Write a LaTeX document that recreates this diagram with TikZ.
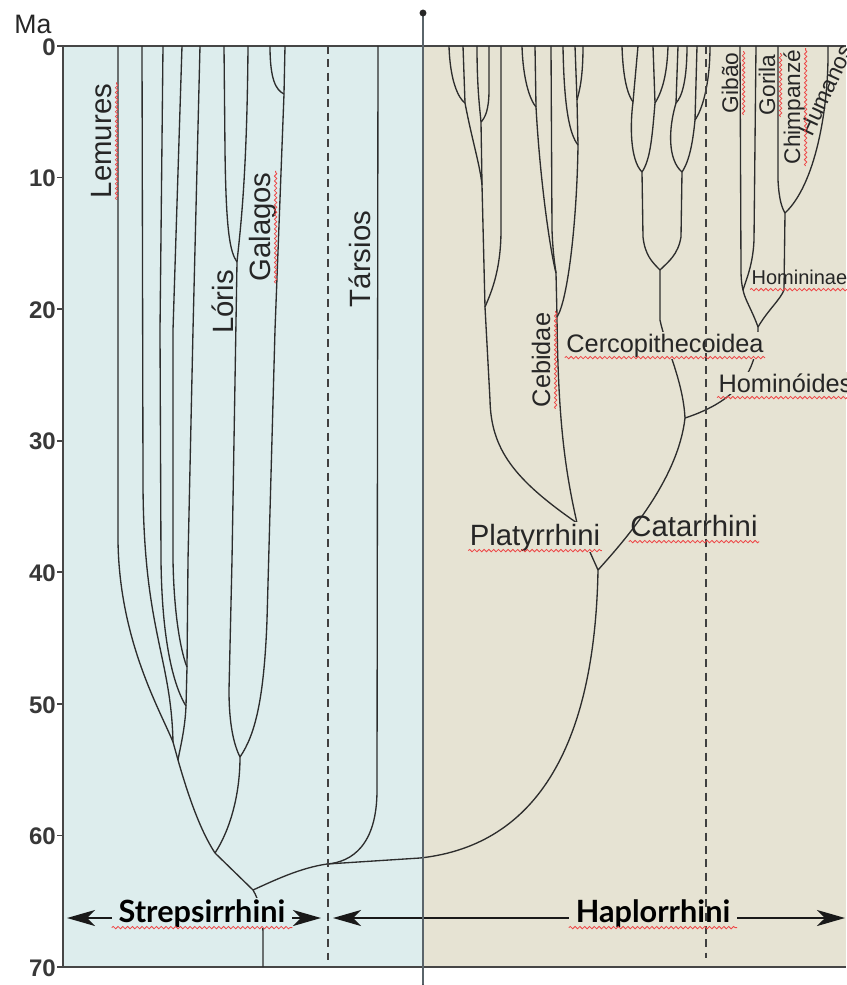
\documentclass[tikz,border=0pt]{standalone}
\usepackage{fontspec}
\setmainfont{Liberation Sans}
\newfontfamily\groupfont{Lato}
\usepackage{xcolor}
\usepackage{tikz}
\usetikzlibrary{arrows.meta}
\usetikzlibrary{calc}
\usetikzlibrary{decorations.pathmorphing}
\definecolor{strepbg}{RGB}{221,237,237}
\definecolor{haplobg}{RGB}{230,227,211}
\definecolor{branchcol}{RGB}{45,45,45}
\definecolor{framecol}{RGB}{70,70,70}
\definecolor{axiscol}{RGB}{90,100,106}
\definecolor{spellred}{RGB}{238,70,70}
\newcommand{\squig}[1]{\draw[squiggle] ($(#1.base west)!4.2pt!-90:(#1.base east)$) -- ($(#1.base east)!4.2pt!90:(#1.base west)$);}

\begin{document}
\begin{tikzpicture}[x=0.75pt, y=-0.75pt,
  branch/.style={draw=branchcol, line width=1pt, line join=round},
  clade/.style={inner sep=1pt, anchor=base, font=\fontsize{22}{26}\selectfont, text=black!85},
  cladesmall/.style={clade, font=\fontsize{19}{23}\selectfont},
  apes/.style={clade, font=\fontsize{17}{20}\selectfont},
  group/.style={inner xsep=5pt, inner ysep=1pt, anchor=base, font=\groupfont\bfseries\fontsize{23}{27}\selectfont},
  grouparrow/.style={draw=black!90, line width=1.5pt, -{Stealth[length=21pt, width=12pt, inset=6pt]}},
  sepline/.style={draw=black!75, line width=1pt, dash pattern=on 6pt off 4pt},
  frameline/.style={draw=framecol, line width=1.2pt},
  ticklab/.style={anchor=east, inner sep=0pt, font=\bfseries\fontsize{18}{20}\selectfont, text=black!78},
  squiggle/.style={draw=spellred, line width=0.6pt, decorate, decoration={snake, amplitude=0.9pt, segment length=3.6pt}}
]
\useasboundingbox (0,0) rectangle (846,985);

\fill[strepbg] (63,46) rectangle (423,967);
\fill[haplobg] (423,46) rectangle (846,967);
\draw[frameline] (57,46) -- (846,46);
\draw[frameline] (57,967) -- (846,967);
\draw[frameline] (63,46) -- (63,967);
\foreach \ma in {0,10,...,70} {
  \draw[frameline] (57,{46+13.157*\ma}) -- (63,{46+13.157*\ma});
  \node[ticklab] (tick\ma) at (56,{47+13.157*\ma}) {\ma};
}
\node[clade, font=\fontsize{20}{24}\selectfont] (ma) at (33,33) {Ma};

\coordinate (lem1) at (118,46);
\coordinate (lem2) at (142,46);
\coordinate (lem3) at (163,46);
\coordinate (lem4) at (182,46);
\coordinate (lem5) at (200,46);
\coordinate (lor1) at (224,46);
\coordinate (lor2) at (248,46);
\coordinate (gal1) at (270,46);
\coordinate (gal2) at (285,46);
\coordinate (tar) at (378,46);
\coordinate (lemJa) at (187,667);
\coordinate (lemJb) at (186,706);
\coordinate (lemJc) at (173,742);
\coordinate (lemJd) at (178,760);
\coordinate (lorJ) at (237,262);
\coordinate (galJ) at (284,94);
\coordinate (lgJ) at (240,757);
\coordinate (strepJ) at (215,853);
\coordinate (rootJ) at (253,890);
\coordinate (rootBase) at (263,967);
\coordinate (tarJ) at (327,864);
\coordinate (anthJ) at (598,570);
\coordinate (platJ) at (577,523);
\coordinate (catJ) at (685,418);

\draw[branch] (lem1) -- (118,540) .. controls (119,640) and (160,710) .. (lemJc);
\draw[branch] (lem2) -- (143,480) .. controls (143,630) and (171,655) .. (lemJc);
\draw[branch] (lem3) -- (160,330) -- (161,560) .. controls (162,650) and (176,690) .. (lemJb);
\draw[branch] (lem4) -- (173,330) -- (173,560) .. controls (174,620) and (182,655) .. (lemJa);
\draw[branch] (lem5) -- (193,330) -- (188,560) -- (lemJa) -- (lemJb) .. controls (185,730) and (180,748) .. (lemJd);
\draw[branch] (lemJc) -- (lemJd);
\draw[branch] (lemJd) .. controls (188,795) and (200,830) .. (strepJ);
\draw[branch] (lor1) -- (225,150) .. controls (226,232) and (230,252) .. (lorJ);
\draw[branch] (lor2) .. controls (247,180) and (240,232) .. (lorJ);
\draw[branch] (lorJ) -- (232,560) -- (229,690) .. controls (229,725) and (234,745) .. (lgJ);
\draw[branch] (gal1) .. controls (270,80) and (276,90) .. (galJ);
\draw[branch] (gal2) -- (galJ);
\draw[branch] (galJ) -- (275,330) -- (267,620) .. controls (264,700) and (255,735) .. (lgJ);
\draw[branch] (lgJ) .. controls (240,795) and (230,830) .. (strepJ);
\draw[branch] (strepJ) -- (rootJ);
\draw[branch] (rootJ) .. controls (259,900) and (263,915) .. (263,935) -- (rootBase);
\draw[branch] (tar) -- (377,790) .. controls (377,845) and (352,862) .. (tarJ);
\draw[branch] (rootJ) .. controls (275,880) and (300,868) .. (tarJ);
\draw[branch] (tarJ) -- (420,858) .. controls (540,845) and (595,740) .. (anthJ);
\draw[branch] (anthJ) -- (platJ);
\draw[branch] (anthJ) .. controls (625,540) and (678,480) .. (catJ);

\coordinate (p1) at (449,46);
\coordinate (p2) at (463,46);
\coordinate (p3) at (477,46);
\coordinate (p4) at (489,46);
\coordinate (p5) at (501,46);
\coordinate (p6) at (522,46);
\coordinate (p7) at (535,46);
\coordinate (p8) at (551,46);
\coordinate (p9) at (563,46);
\coordinate (p10) at (575,46);
\coordinate (p11) at (583,46);
\coordinate (pJa) at (465,103);
\coordinate (pJb) at (481,122);
\coordinate (pJc) at (482,185);
\coordinate (pJd) at (485,307);
\coordinate (pJe) at (536,107);
\coordinate (pJf) at (556,273);
\coordinate (pJg) at (577,100);
\coordinate (pJh) at (578,145);
\coordinate (pJi) at (557,317);

\draw[branch] (platJ) .. controls (515,480) and (491,450) .. (490,400) -- (pJd);
\draw[branch] (platJ) .. controls (565,470) and (558,420) .. (pJi);
\draw[branch] (pJd) -- (pJc) -- (pJb);
\draw[branch] (p5) -- (501,230) .. controls (501,272) and (490,295) .. (pJd);
\draw[branch] (pJa) .. controls (472,140) and (480,165) .. (pJc);
\draw[branch] (p3) .. controls (477,90) and (480,110) .. (pJb);
\draw[branch] (p4) -- (489,90) .. controls (489,110) and (485,118) .. (pJb);
\draw[branch] (p2) -- (pJa);
\draw[branch] (p1) .. controls (450,80) and (458,98) .. (pJa);
\draw[branch] (pJi) -- (pJf);
\draw[branch] (p8) -- (552,230) .. controls (553,255) and (555,265) .. (pJf);
\draw[branch] (pJe) .. controls (540,180) and (550,250) .. (pJf);
\draw[branch] (p7) -- (pJe);
\draw[branch] (p6) .. controls (523,80) and (530,100) .. (pJe);
\draw[branch] (pJh) .. controls (577,220) and (568,300) .. (pJi);
\draw[branch] (p9) .. controls (564,110) and (570,135) .. (pJh);
\draw[branch] (p10) -- (pJg) -- (pJh);
\draw[branch] (p11) .. controls (583,80) and (579,92) .. (pJg);

\coordinate (c1) at (622,46);
\coordinate (c2) at (638,46);
\coordinate (c3) at (653,46);
\coordinate (c4) at (668,46);
\coordinate (c5) at (678,46);
\coordinate (c6) at (687,46);
\coordinate (c7) at (697,46);
\coordinate (c8) at (710,46);
\coordinate (cJa) at (633,102);
\coordinate (cJb) at (655,103);
\coordinate (cJc) at (642,172);
\coordinate (cJd) at (676,103);
\coordinate (cJe) at (695,120);
\coordinate (cJf) at (682,172);
\coordinate (cJg) at (660,270);

\draw[branch] (c1) .. controls (623,80) and (628,95) .. (cJa);
\draw[branch] (c2) -- (cJa);
\draw[branch] (c3) -- (cJb);
\draw[branch] (c4) .. controls (667,80) and (660,95) .. (cJb);
\draw[branch] (cJa) .. controls (630,125) and (630,160) .. (cJc);
\draw[branch] (cJb) .. controls (652,140) and (650,160) .. (cJc);
\draw[branch] (c5) -- (cJd);
\draw[branch] (c6) .. controls (687,80) and (682,97) .. (cJd);
\draw[branch] (c7) -- (cJe);
\draw[branch] (c8) .. controls (710,85) and (702,110) .. (cJe);
\draw[branch] (cJd) .. controls (668,130) and (668,160) .. (cJf);
\draw[branch] (cJe) .. controls (693,140) and (690,160) .. (cJf);
\draw[branch] (cJc) -- (643,237) .. controls (645,255) and (652,262) .. (cJg);
\draw[branch] (cJf) -- (681,237) .. controls (678,255) and (668,262) .. (cJg);
\draw[branch] (cJg) -- (660,320) .. controls (665,345) and (683,380) .. (catJ);

\coordinate (h1) at (740,46);
\coordinate (h2) at (756,46);
\coordinate (h3) at (778,46);
\coordinate (h4) at (828,46);
\coordinate (hJa) at (743,290);
\coordinate (hJb) at (785,213);
\coordinate (hJc) at (758,327);

\draw[branch] (catJ) .. controls (740,400) and (758,370) .. (hJc);
\draw[branch] (hJc) .. controls (752,310) and (745,300) .. (hJa);
\draw[branch] (hJc) .. controls (768,310) and (780,300) .. (784,290) -- (hJb);
\draw[branch] (h1) -- (741,270) .. controls (741,280) and (742,286) .. (hJa);
\draw[branch] (h2) -- (754,240) .. controls (753,265) and (746,280) .. (hJa);
\draw[branch] (h3) -- (778,180) .. controls (779,200) and (782,208) .. (hJb);
\draw[branch] (h4) .. controls (829,110) and (815,185) .. (hJb);

\node[clade, rotate=90] (lemures) at (111,141) {Lemures};
\node[clade, rotate=90] (loris) at (233,302) {Lóris};
\node[clade, rotate=90] (galagos) at (270,227) {Galagos};
\node[clade, rotate=90] (tarsios) at (370,259) {Társios};
\node[cladesmall, rotate=90] (cebidae) at (550,360) {Cebidae};
\node[apes, rotate=90] (gibao) at (738,83) {Gibão};
\node[apes, rotate=90] (gorila) at (775,85) {Gorila};
\node[apes, rotate=90] (chimp) at (800,107) {Chimpanzé};
\node[apes, rotate=65, anchor=base west] (humanos) at (812,139) {Humanos};
\node[clade, anchor=base west, font=\fontsize{15}{18}\selectfont] (homininae) at (750,284) {Homininae};
\node[cladesmall, anchor=base west, fill=haplobg] (hominoides) at (717,392) {Hominóides};
\node[cladesmall, fill=haplobg] (cercopith) at (665,352) {Cercopithecoidea};
\node[clade, fill=haplobg] (platyrrhini) at (535,545) {Platyrrhini};
\node[clade] (catarrhini) at (694,536) {Catarrhini};

\node[group, fill=strepbg] (strep) at (202,922) {Strepsirrhini};
\node[group, fill=haplobg] (haplo) at (653,922) {Haplorrhini};
\coordinate (strepL) at (67,918);
\coordinate (strepR) at (321,918);
\coordinate (haploL) at (333,918);
\coordinate (haploR) at (845,918);
\draw[grouparrow] (strep.west |- strepL) -- (strepL);
\draw[grouparrow] (strep.east |- strepR) -- (strepR);
\draw[grouparrow] (haplo.west |- haploL) -- (haploL);
\draw[grouparrow] (haplo.east |- haploR) -- (haploR);

\draw[sepline] (328,46) -- (328,960);
\draw[sepline] (706,46) -- (706,958);
\draw[draw=axiscol, line width=1.5pt] (423,13) -- (423,990);
\fill[black!85] (423,13) circle[radius=2.6pt];
\fill[black!85] (423,988) circle[radius=2.6pt];

\squig{lemures}
\squig{galagos}
\squig{cebidae}
\squig{gibao}
\squig{gorila}
\squig{chimp}
\squig{homininae}
\squig{hominoides}
\squig{cercopith}
\squig{platyrrhini}
\squig{catarrhini}
\squig{strep}
\squig{haplo}
\end{tikzpicture}
\end{document}
